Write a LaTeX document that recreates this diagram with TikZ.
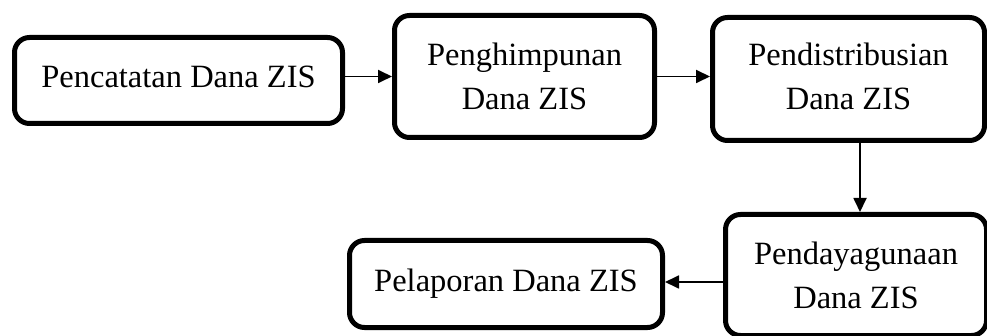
\documentclass[tikz,border=0pt]{standalone}
\usepackage{fontspec}
\setmainfont{Liberation Serif}
\usetikzlibrary{arrows.meta}
\begin{document}
\begin{tikzpicture}[x=1pt,y=-1pt,
  box/.style={draw=black, line width=5pt, rounded corners=15pt, fill=white,
    align=center, inner sep=0pt, font=\fontsize{32.5}{44}\selectfont},
  conn/.style={line width=1.8pt, -{Triangle[length=14pt,width=13pt]}}]
\useasboundingbox (0,0) rectangle (987,336);
\node[box, minimum width=328pt, minimum height=86pt, text depth=7pt] (b1) at (178.5,80.5) {Pencatatan Dana ZIS};
\node[box, minimum width=260pt, minimum height=122pt] (b2) at (524.5,76.5) {Penghimpunan\\Dana ZIS};
\node[box, minimum width=272pt, minimum height=123pt, text depth=6pt] (b3) at (848.5,79) {Pendistribusian\\Dana ZIS};
\node[box, minimum width=261pt, minimum height=121pt] (b4) at (856,275) {Pendayagunaan\\Dana ZIS};
\node[box, minimum width=313pt, minimum height=87pt] (b5) at (506,284) {Pelaporan Dana ZIS};
\coordinate (a1) at (b1.east |- b2.west);
\coordinate (a3) at (b3.south -| 860,0);
\coordinate (a4) at (b4.west |- 0,282);
\draw[conn] (a1) -- (b2.west);
\draw[conn] (b2.east) -- (b2.east -| b3.west);
\draw[conn] (a3) -- (a3 |- b4.north);
\draw[conn] (a4) -- (a4 -| b5.east);
\end{tikzpicture}
\end{document}
